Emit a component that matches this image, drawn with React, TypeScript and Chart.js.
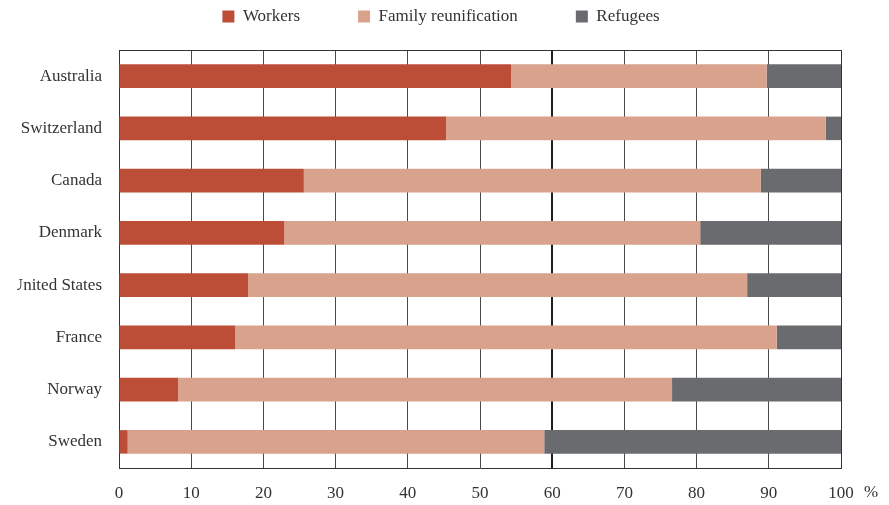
import React, { useEffect, useRef } from 'react';
import { Chart, registerables } from 'chart.js';

Chart.register(...registerables);

const categories = ['Australia', 'Switzerland', 'Canada', 'Denmark', 'United States', 'France', 'Norway', 'Sweden'];
const workers = [54.3, 45.3, 25.6, 22.9, 17.9, 16.1, 8.2, 1.2];
const family = [35.4, 52.6, 63.3, 57.6, 69.1, 75.0, 68.4, 57.7];
const refugees = [10.3, 2.1, 11.1, 19.5, 13.0, 8.9, 23.4, 41.1];
const seriesNames = ['Workers', 'Family reunification', 'Refugees'];
const xTickValues = [0, 10, 20, 30, 40, 50, 60, 70, 80, 90, 100];
const xUnit = '%';

const FONT = "'Liberation Serif', 'Times New Roman', serif";
const TEXT = '#333333';
const FS = 17;

export default function App() {
  const ref = useRef<HTMLCanvasElement>(null);

  useEffect(() => {
    if (!ref.current) return;
    const framePlugin = {
      id: 'frame',
      afterLayout(c: any) {
        if (c.legend) {
          c.legend.left += 42;
          c.legend.right += 42;
        }
      },
      beforeDatasetsDraw(c: any) {
        const { ctx, chartArea } = c;
        ctx.save();
        ctx.strokeStyle = '#333333';
        ctx.lineWidth = 1;
        ctx.beginPath();
        ctx.moveTo(Math.round(chartArea.left) + 0.5, Math.round(chartArea.top) + 0.5);
        ctx.lineTo(Math.round(chartArea.right) + 0.5, Math.round(chartArea.top) + 0.5);
        ctx.lineTo(Math.round(chartArea.right) + 0.5, Math.round(chartArea.bottom) + 0.5);
        ctx.stroke();
        ctx.restore();
      },
      afterDraw(c: any) {
        const { ctx } = c;
        const xs = c.scales.x;
        const px = xs.getPixelForValue(100);
        ctx.save();
        ctx.font = `${FS}px ${FONT}`;
        ctx.fillStyle = TEXT;
        ctx.textAlign = 'left';
        ctx.textBaseline = 'top';
        ctx.fillText(xUnit, px + 23, xs.top + 16);
        ctx.restore();
      },
    };

    const chart = new Chart(ref.current, {
      type: 'bar',
      data: {
        labels: categories,
        datasets: [
          { label: seriesNames[0], data: workers, backgroundColor: '#BC4E38', borderWidth: 0 },
          { label: seriesNames[1], data: family, backgroundColor: '#D9A28C', borderWidth: 0 },
          { label: seriesNames[2], data: refugees, backgroundColor: '#6A6B6F', borderWidth: 0 },
        ],
      },
      options: {
        indexAxis: 'y',
        responsive: false,
        animation: false,
        devicePixelRatio: 1,
        layout: { padding: { top: -50, left: 0, right: 40, bottom: 0 } },
        datasets: { bar: { barPercentage: 0.45, categoryPercentage: 1 } },
        plugins: {
          tooltip: { enabled: false },
          legend: {
            position: 'top',
            labels: {
              boxWidth: 12,
              boxHeight: 12,
              padding: 58,
              color: TEXT,
              font: { family: FONT, size: FS },
            },
          },
        },
        scales: {
          x: {
            type: 'linear',
            stacked: true,
            min: 0,
            max: 100,
            afterBuildTicks: (s: any) => {
              s.ticks = xTickValues.map((v) => ({ value: v }));
            },
            afterFit: (s: any) => {
              s.height = 37;
            },
            ticks: {
              color: TEXT,
              padding: 15,
              font: { family: FONT, size: FS },
              maxRotation: 0,
              callback: (v: any) => String(v),
            },
            grid: {
              drawTicks: false,
              color: (c: any) => (c.tick && c.tick.value === 60 ? '#1e1e1e' : '#4a4a4a'),
              lineWidth: (c: any) => (c.tick && c.tick.value === 60 ? 2 : 1),
            },
            border: { display: true, color: '#333333', width: 1 },
          },
          spacer: {
            type: 'linear',
            axis: 'x',
            position: 'top',
            display: true,
            ticks: { display: false },
            grid: { display: false, drawTicks: false },
            border: { display: false },
            afterFit: (s: any) => {
              s.height = 15;
            },
          },
          y: {
            stacked: true,
            afterFit: (s: any) => {
              s.width = 162;
            },
            ticks: {
              color: TEXT,
              padding: 17,
              font: { family: FONT, size: FS },
            },
            grid: { display: false, drawTicks: false },
            border: { display: true, color: '#333333', width: 1 },
          },
        },
      } as any,
      plugins: [framePlugin],
    });
    return () => chart.destroy();
  }, []);

  return (
    <div style={{ position: 'fixed', left: 0, top: 0, width: 889, height: 505, overflow: 'hidden', background: '#ffffff' }}>
      <div style={{ position: 'absolute', left: 17, top: 0, width: 872, height: 505, overflow: 'hidden' }}>
        <canvas
          ref={ref}
          width={924}
          height={505}
          style={{ position: 'absolute', left: -60, top: 0, width: 924, height: 505 }}
        />
      </div>
    </div>
  );
}
